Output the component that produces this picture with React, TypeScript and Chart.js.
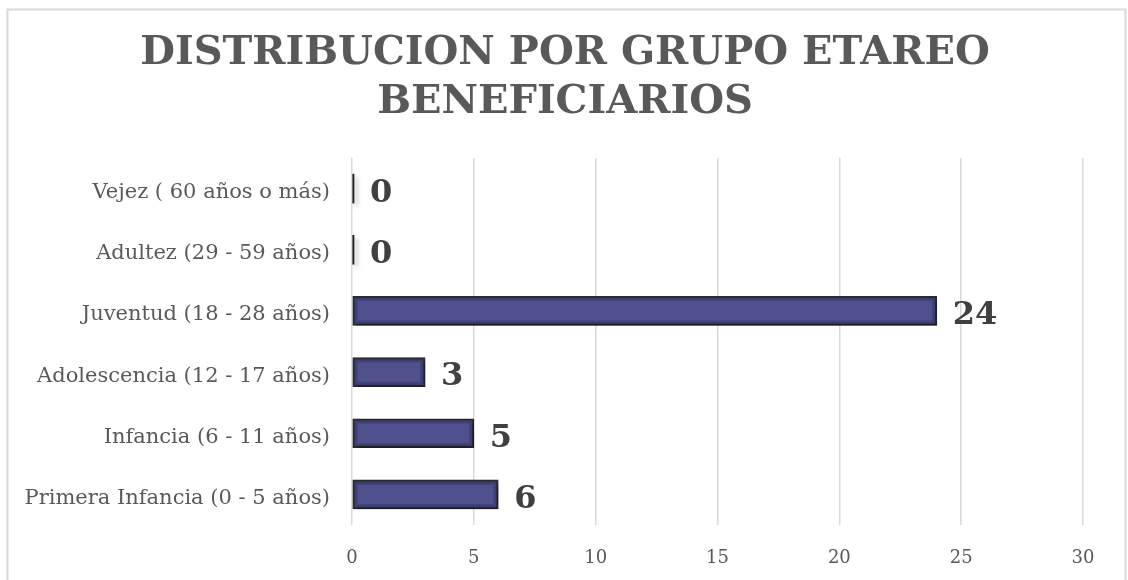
import React, { useEffect, useRef } from 'react';
import { Chart, registerables } from 'chart.js';

Chart.register(...registerables);

const categories: string[] = [
  'Vejez ( 60 años o más)',
  'Adultez (29 - 59 años)',
  'Juventud (18 - 28 años)',
  'Adolescencia (12 - 17 años)',
  'Infancia (6 - 11 años)',
  'Primera Infancia (0 - 5 años)',
];
const values: number[] = [0, 0, 24, 3, 5, 6];
const xMin = 0;
const xMax = 30;
const xStep = 5;
const titleLines: string[] = ['DISTRIBUCION POR GRUPO ETAREO', 'BENEFICIARIOS'];

const FONT = '"DejaVu Serif", serif';

const framePlugin = {
  id: 'frame',
  beforeDraw(chart: any) {
    const ctx = chart.ctx;
    ctx.save();
    ctx.fillStyle = '#ffffff';
    ctx.fillRect(0, 0, chart.width, chart.height);
    ctx.strokeStyle = '#d9d9d9';
    ctx.lineWidth = 2;
    ctx.strokeRect(7.5, 9.5, 1118, 620);
    ctx.restore();
  },
  afterDraw(chart: any) {
    const ctx = chart.ctx;
    ctx.save();
    ctx.font = `bold 40px ${FONT}`;
    ctx.fillStyle = '#595959';
    ctx.textAlign = 'center';
    ctx.textBaseline = 'middle';
    titleLines.forEach((t, i) => ctx.fillText(t, 565, 54 + i * 49));
    ctx.restore();
  },
};

const shadowPlugin = {
  id: 'barShadow',
  beforeDatasetsDraw(chart: any) {
    const ctx = chart.ctx;
    ctx.save();
    ctx.shadowColor = 'rgba(0,0,0,0.3)';
    ctx.shadowOffsetX = 3;
    ctx.shadowOffsetY = 3;
    ctx.shadowBlur = 4;
  },
  afterDatasetsDraw(chart: any) {
    chart.ctx.restore();
  },
};

const labelPlugin = {
  id: 'valueLabels',
  afterDatasetsDraw(chart: any) {
    const ctx = chart.ctx;
    const meta = chart.getDatasetMeta(0);
    ctx.save();
    // bevel overlay on bars
    meta.data.forEach((el: any, i: number) => {
      const v = chart.data.datasets[0].data[i];
      if (!v) return;
      const p = el.getProps(['x', 'y', 'base', 'height'], true);
      const left = Math.min(p.base, p.x) + 4;
      const right = Math.max(p.base, p.x) - 4;
      const top = p.y - p.height / 2 + 4;
      const bottom = p.y + p.height / 2 - 4;
      ctx.fillStyle = '#50508f';
      ctx.fillRect(left, top, right - left, bottom - top);
      ctx.strokeStyle = '#44447c';
      ctx.lineWidth = 1;
      ctx.strokeRect(left + 0.5, top + 0.5, right - left - 1, bottom - top - 1);
    });
    ctx.font = `bold 32px ${FONT}`;
    ctx.fillStyle = '#404040';
    ctx.textAlign = 'left';
    ctx.textBaseline = 'middle';
    meta.data.forEach((el: any, i: number) => {
      const v = chart.data.datasets[0].data[i];
      ctx.fillText(String(v), el.x + 16, el.y + 5);
    });
    ctx.restore();
  },
};

export default function App() {
  const ref = useRef<HTMLCanvasElement | null>(null);
  useEffect(() => {
    if (!ref.current) return;
    const chart = new Chart(ref.current, {
      type: 'bar',
      data: {
        labels: categories,
        datasets: [
          {
            data: values,
            backgroundColor: (c: any) => (values[c.dataIndex] === 0 ? '#1a1a1a' : '#3d3d6e'),
            borderColor: '#2a2a33',
            borderWidth: (c: any) => (values[c.dataIndex] === 0 ? 0 : 2),
            borderSkipped: false,
            barThickness: 29,
            minBarLength: 2,
          },
        ],
      },
      options: {
        indexAxis: 'y',
        animation: false,
        responsive: false,
        maintainAspectRatio: false,
        layout: { padding: { left: 0, right: 45, top: 158, bottom: 0 } },
        plugins: {
          legend: { display: false },
          tooltip: { enabled: false },
          title: { display: false },
        },
        scales: {
          x: {
            min: xMin,
            max: xMax,
            ticks: {
              stepSize: xStep,
              color: '#595959',
              font: { family: FONT, size: 18 },
              padding: 23,
            },
            grid: { color: '#d9d9d9', lineWidth: 1.5, drawTicks: false },
            border: { display: false },
            afterFit: (s: any) => {
              s.height = 55;
            },
          },
          y: {
            ticks: {
              color: '#595959',
              font: { family: FONT, size: 21 },
              padding: 22,
              labelOffset: 4,
            },
            grid: { display: false, drawTicks: false },
            border: { display: false },
            afterFit: (s: any) => {
              s.width = 352;
            },
          },
        },
      },
      plugins: [framePlugin, shadowPlugin, labelPlugin],
    });
    return () => chart.destroy();
  }, []);
  return (
    <div style={{ position: 'absolute', left: 0, top: 0, width: 1128, height: 580 }}>
      <canvas ref={ref} width={1128} height={580} style={{ display: 'block' }} />
    </div>
  );
}
